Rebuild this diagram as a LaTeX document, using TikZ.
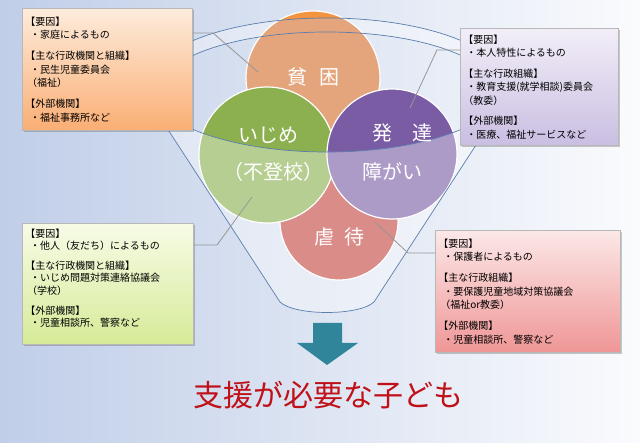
\documentclass[tikz,border=0pt]{standalone}
\usepackage{fontspec}
\newfontfamily\jp{Noto Sans CJK JP}
\usetikzlibrary{shadows}
\definecolor{bgL}{RGB}{192,206,232}
\definecolor{bgR}{RGB}{250,251,253}
\definecolor{orMouth}{RGB}{228,165,124}
\definecolor{orCap}{RGB}{242,148,64}
\definecolor{greenC}{RGB}{140,176,80}
\definecolor{purpleC}{RGB}{122,92,165}
\definecolor{redBase}{RGB}{196,70,64}
\definecolor{funnelLine}{RGB}{90,125,172}
\definecolor{connGray}{RGB}{150,150,150}
\definecolor{arrowTeal}{RGB}{49,133,155}
\definecolor{dred}{RGB}{192,16,24}
\definecolor{oTop}{RGB}{253,236,220}
\definecolor{oBot}{RGB}{250,174,116}
\definecolor{pTop}{RGB}{242,238,248}
\definecolor{pBot}{RGB}{202,190,226}
\definecolor{gTop}{RGB}{247,251,230}
\definecolor{gBot}{RGB}{214,235,152}
\definecolor{rTop}{RGB}{252,232,232}
\definecolor{rBot}{RGB}{240,150,150}
\tikzset{
  funnel/.style={draw=funnelLine, line width=0.7pt},
  conn/.style={draw=connGray, line width=0.8pt},
  ring/.style={draw=white, line width=1.2pt},
  bigtext/.style={text=white, font=\jp\fontsize{20}{24}\selectfont, inner sep=0pt},
  infobox/.style={draw=black!28, line width=0.5pt, anchor=north west, align=left,
    inner xsep=3pt, inner ysep=2pt, font=\jp\fontsize{10}{13.5}\selectfont,
    drop shadow={shadow xshift=2pt, shadow yshift=-2pt, opacity=0.3, fill=black!70}}
}
\begin{document}
\begin{tikzpicture}[x=1pt,y=1pt]
\useasboundingbox (0,0) rectangle (640,-443);
\shade[left color=bgL, right color=bgR] (0,0) rectangle (640,-443);

% funnel rim band
\fill[white, opacity=0.35, even odd rule]
  (327,-85) ellipse [x radius=179pt, y radius=67pt]
  (327,-92) ellipse [x radius=169pt, y radius=60pt];

% poverty circle
\fill[orMouth] (313,-78) circle[radius=67pt];
\begin{scope}
  \clip (148,-85) arc[start angle=180, end angle=0, x radius=179pt, y radius=67pt]
        -- (506,0) -- (148,0) -- cycle;
  \fill[orCap] (313,-78) circle[radius=67pt];
\end{scope}
\draw[ring] (313,-78) circle[radius=67pt];

% abuse circle
\fill[redBase] (339,-221) circle[radius=59pt];
\draw[ring] (339,-221) circle[radius=59pt];
% bullying circle
\fill[greenC] (267,-155) circle[radius=68pt];
\draw[ring] (267,-155) circle[radius=68pt];
% development circle
\fill[purpleC] (392,-154) circle[radius=65pt];
\draw[ring] (392,-154) circle[radius=65pt];

% funnel body overlay
\fill[white, opacity=0.38]
  (139,-85) -- (280,-302) .. controls (295,-316) and (359,-316) .. (374,-302)
  -- (515,-85) -- (506,-85)
  arc[start angle=0, end angle=-180, x radius=179pt, y radius=67pt] -- cycle;

% funnel outlines
\draw[funnel] (327,-85) ellipse [x radius=179pt, y radius=67pt];
\draw[funnel] (158,-92) arc[start angle=180, end angle=0, x radius=169pt, y radius=60pt];
\draw[funnel] (139,-85) -- (280,-302) .. controls (295,-316) and (359,-316) .. (374,-302) -- (515,-85);

% circle labels
\node[bigtext] (tpov) at (313,-77) {貧\hspace{0.6em}困};
\node[bigtext] (tbul1) at (268,-135) {いじめ};
\node[bigtext] (tbul2) at (273,-172) {（不登校）};
\node[bigtext] (tdev1) at (402,-133) {発　達};
\node[bigtext] (tdev2) at (392,-172) {障がい};
\node[bigtext] (tabu) at (339,-237) {虐\hspace{0.5em}待};

% info boxes
\node[infobox, top color=oTop, bottom color=oBot, minimum width=170pt, minimum height=122pt, text width=164pt] (obox) at (22,-8) {%
【要因】\\
\hspace*{0.5em}・家庭によるもの\\[7.5pt]
【主な行政機関と組織】\\
\hspace*{0.5em}・民生児童委員会\\
\hspace*{0.2em}（福祉）\\[7.5pt]
【外部機関】\\
\hspace*{0.5em}・福祉事務所など};

\node[infobox, top color=pTop, bottom color=pBot, minimum width=158pt, minimum height=117pt, text width=152pt] (pbox) at (460,-28) {%
【要因】\\
\hspace*{0.3em}・本人特性によるもの\\[7pt]
【主な行政組織】\\
\hspace*{0.3em}・教育支援(就学相談)委員会\\
（教委）\\[7pt]
【外部機関】\\
\hspace*{0.3em}・医療、福祉サービスなど};

\node[infobox, top color=gTop, bottom color=gBot, minimum width=171pt, minimum height=121pt, text width=165pt, font=\jp\fontsize{10}{12.8}\selectfont] (gbox) at (22,-223) {%
【要因】\\
\hspace*{0.5em}・他人（友だち）によるもの\\[6.5pt]
【主な行政機関と組織】\\
\hspace*{0.5em}・いじめ問題対策連絡協議会\\
\hspace*{0.2em}（学校）\\[6.5pt]
【外部機関】\\
\hspace*{0.5em}・児童相談所、警察など\rule[-12pt]{0pt}{0pt}};

\node[infobox, top color=rTop, bottom color=rBot, minimum width=185pt, minimum height=122pt, text width=179pt] (rbox) at (435,-230) {%
【要因】\\
\hspace*{0.5em}・保護者によるもの\\[7.5pt]
【主な行政組織】\\
\hspace*{0.5em}・要保護児童地域対策協議会\\
\hspace*{0.2em}（福祉or教委）\\[7.5pt]
【外部機関】\\
\hspace*{0.5em}・児童相談所、警察など};

% connectors
\coordinate (oc1) at (213,-33);
\coordinate (oc2) at (258,-72);
\coordinate (pc1) at (437,-50);
\coordinate (pc2) at (410,-108);
\coordinate (gc1) at (217,-245);
\coordinate (gc2) at (252,-197);
\coordinate (rc1) at (408,-253);
\coordinate (rc2) at (375,-222);
\draw[conn] (obox.east |- oc1) -- (oc1) -- (oc2);
\draw[conn] (pbox.west |- pc1) -- (pc1) -- (pc2);
\draw[conn] (gbox.east |- gc1) -- (gc1) -- (gc2);
\draw[conn] (rbox.west |- rc1) -- (rc1) -- (rc2);

% down arrow
\fill[arrowTeal] (313,-323) -- (342,-323) -- (342,-343) -- (358,-343)
  -- (327,-365) -- (297,-343) -- (313,-343) -- cycle;

% goal text
\node[text=dred, font=\jp\fontsize{30}{32}\selectfont, inner sep=0pt] (goal) at (328,-395) {支援が必要な子ども};
\end{tikzpicture}
\end{document}
